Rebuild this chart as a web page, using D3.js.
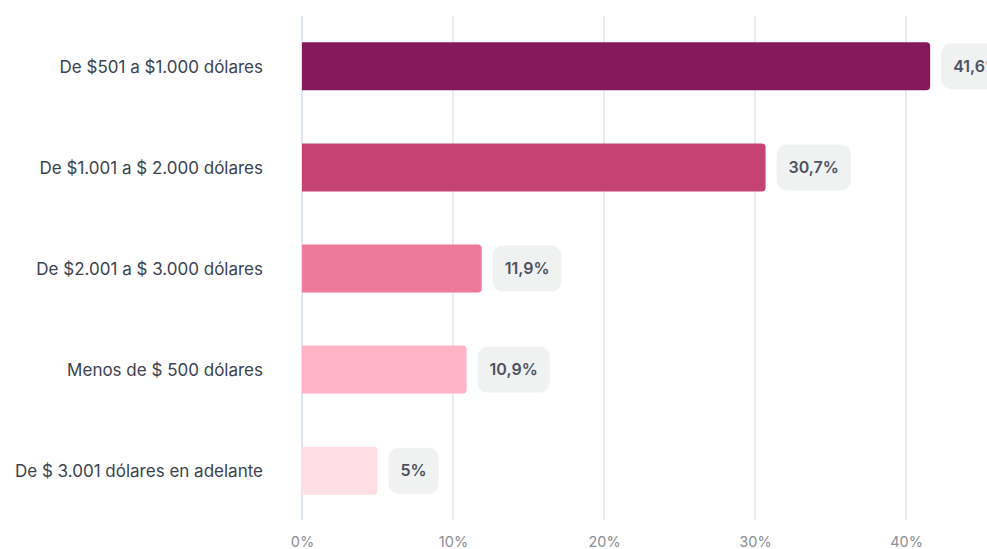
<!DOCTYPE html>
<html>
<head>
<meta charset="utf-8">
<script src="https://cdn.jsdelivr.net/npm/d3@7"></script>
<style>
  html, body { margin: 0; padding: 0; background: #fff; }
  svg { display: block; font-family: Inter, "Noto Sans", sans-serif; }
</style>
</head>
<body>
<svg id="chart" width="987" height="549"></svg>
<script>
// Income ranges and share of respondents (%)
const categories = [
  "De $501 a $1.000 dólares",
  "De $1.001 a $ 2.000 dólares",
  "De $2.001 a $ 3.000 dólares",
  "Menos de $ 500 dólares",
  "De $ 3.001 dólares en adelante"
];
const values = [41.6, 30.7, 11.9, 10.9, 5];
const valueLabels = ["41,6%", "30,7%", "11,9%", "10,9%", "5%"];
const barColors = ["#841a5c", "#c44370", "#ec7a98", "#ffb3c5", "#ffdfe5"];
const tickValues = [0, 10, 20, 30, 40];
const tickLabels = ["0%", "10%", "20%", "30%", "40%"];

const svg = d3.select("#chart");

const x = d3.scaleLinear().domain([0, 10]).range([302, 453]);
const y = d3.scaleBand()
  .domain(categories)
  .range([16, 521])
  .paddingInner(0.525)
  .paddingOuter(0.26);

// vertical grid lines
svg.append("g")
  .selectAll("line")
  .data(tickValues.filter(d => d > 0))
  .join("line")
  .attr("x1", d => x(d)).attr("x2", d => x(d))
  .attr("y1", 16).attr("y2", 520)
  .attr("stroke", "#e6e6e9")
  .attr("stroke-width", 1.5);

// zero baseline
svg.append("line")
  .attr("x1", x(0)).attr("x2", x(0))
  .attr("y1", 16).attr("y2", 520)
  .attr("stroke", "#d3dcf0")
  .attr("stroke-width", 1.5);

// x tick labels
const xAxis = d3.axisBottom(x)
  .tickValues(tickValues)
  .tickFormat((d, i) => tickLabels[i])
  .tickSize(0)
  .tickPadding(0);
const gx = svg.append("g")
  .attr("transform", "translate(0,533)")
  .call(xAxis);
gx.select(".domain").remove();
gx.selectAll("text")
  .attr("font-size", 14.5)
  .attr("fill", "#8a8d93")
  .attr("font-family", "Inter, sans-serif")
  .attr("dy", "0.71em")
  .attr("y", 4);

// y category labels
const yAxis = d3.axisLeft(y).tickSize(0).tickPadding(0);
const gy = svg.append("g")
  .attr("transform", "translate(263,1)")
  .call(yAxis);
gy.select(".domain").remove();
gy.selectAll("text")
  .attr("font-size", 17)
  .attr("fill", "#3b4250")
  .attr("font-family", "Inter, sans-serif");

// bars with rounded right end, square left end
const r = 4;
function barPath(d, i) {
  const x0 = x(0), x1 = x(values[i]);
  const y0 = y(categories[i]), h = y.bandwidth();
  return `M${x0},${y0}H${x1 - r}Q${x1},${y0} ${x1},${y0 + r}` +
         `V${y0 + h - r}Q${x1},${y0 + h} ${x1 - r},${y0 + h}H${x0}Z`;
}
svg.append("g")
  .selectAll("path")
  .data(values)
  .join("path")
  .attr("d", (d, i) => barPath(d, i))
  .attr("fill", (d, i) => barColors[i]);

// value label pills
const labels = svg.append("g")
  .selectAll("g")
  .data(values)
  .join("g")
  .attr("transform", (d, i) => `translate(${x(d) + 11},${y(categories[i]) + y.bandwidth() / 2})`);

labels.append("text")
  .text((d, i) => valueLabels[i])
  .attr("x", 12)
  .attr("dy", "0.35em")
  .attr("font-size", 16)
  .attr("font-weight", 600)
  .attr("fill", "#4c5261")
  .attr("font-family", "Inter, sans-serif");

labels.each(function () {
  const g = d3.select(this);
  const w = g.select("text").node().getComputedTextLength();
  g.insert("rect", "text")
    .attr("x", 0)
    .attr("y", -23)
    .attr("width", w + 24)
    .attr("height", 46)
    .attr("rx", 10)
    .attr("fill", "#f0f1f1");
});
</script>
</body>
</html>
